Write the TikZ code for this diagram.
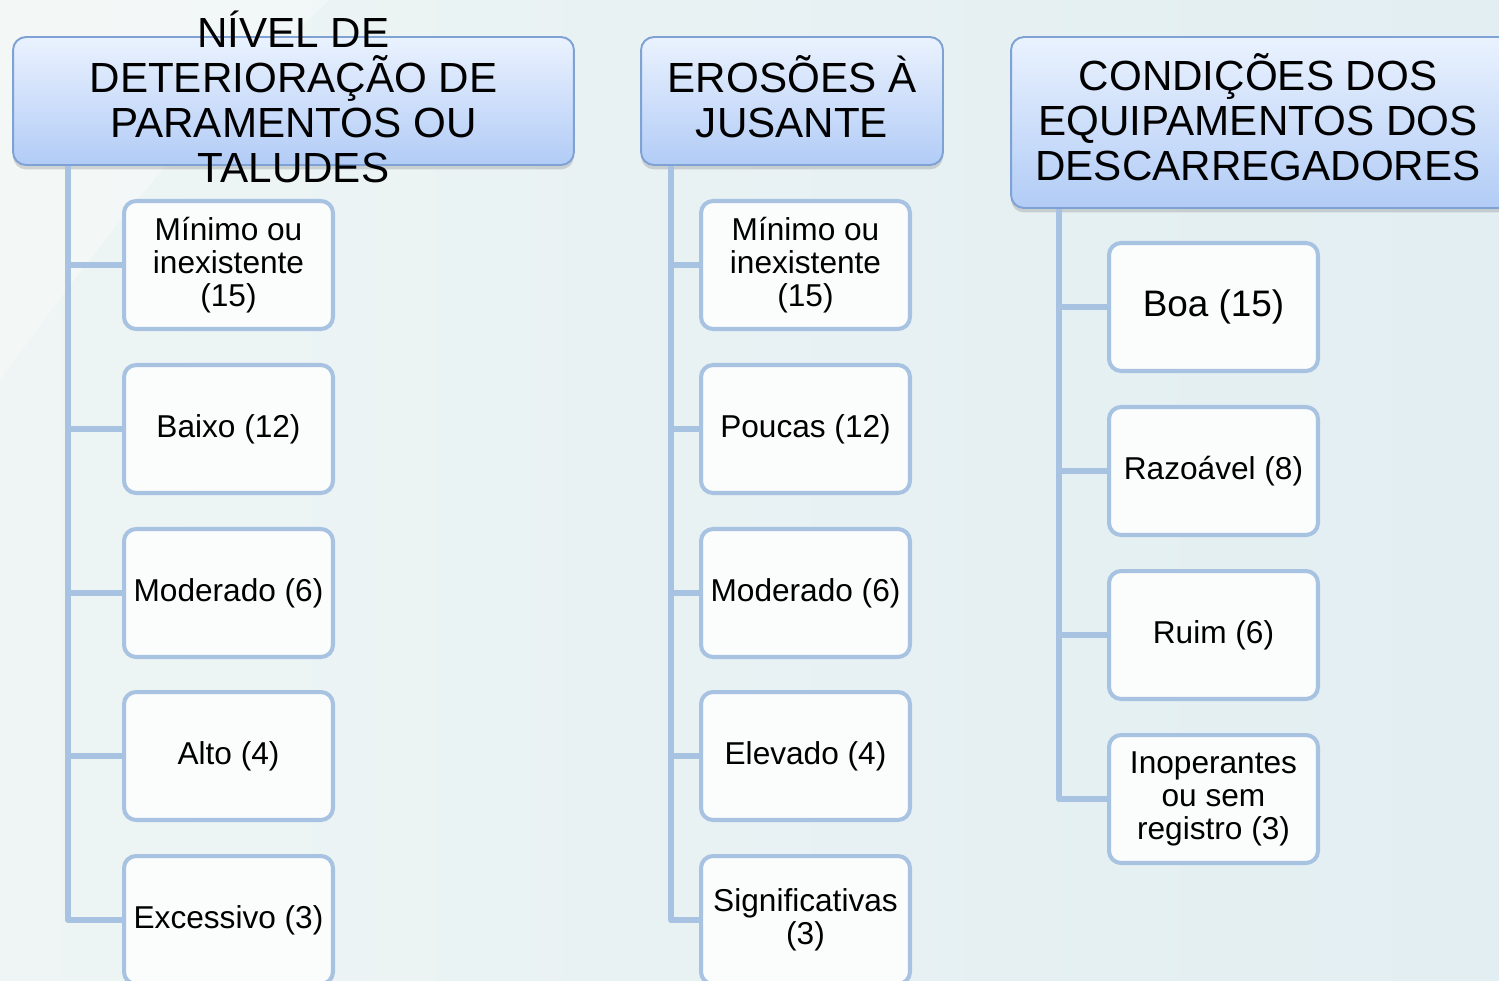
\documentclass[tikz,border=0pt]{standalone}
\usepackage{fontspec}
\setmainfont{Liberation Sans}
\usetikzlibrary{shadows}
\definecolor{linkblue}{HTML}{A8C2E1}
\definecolor{headline}{HTML}{7FA2D4}
\definecolor{headtop}{HTML}{EAF2FE}
\definecolor{headbot}{HTML}{B2CCF6}
\definecolor{boxfill}{HTML}{FBFCFC}
\definecolor{bgleft}{HTML}{EEF5F4}
\definecolor{bgright}{HTML}{E2EEF2}
\begin{document}
\begin{tikzpicture}[x=0.02cm, y=-0.02cm, line join=round, line cap=round,
	head/.style={draw=headline, line width=1.1pt, rounded corners=0.26cm, top color=headtop, bottom color=headbot,
		drop shadow={shadow xshift=0pt, shadow yshift=-2.5pt, opacity=0.3}, inner sep=0pt},
	headtext/.style={align=center, inner sep=0pt, yshift=0.08cm, font=\fontsize{24}{25.6}\selectfont},
	item/.style={draw=linkblue, line width=2.3pt, rounded corners=0.24cm, fill=boxfill, minimum width=4.18cm,
		minimum height=2.56cm, align=center, inner sep=0pt, font=\fontsize{18}{18.7}\selectfont},
	link/.style={draw=linkblue, line width=3.4pt, line cap=butt}]
	\useasboundingbox (0,0) rectangle (1499,981);
	\clip (0,0) rectangle (1499,981);
	% Fundo
	\shade [left color=bgleft, right color=bgright] (0,0) rectangle (1499,981);
	\fill [white, opacity=0.35] (0,380) .. controls (60,300) and (160,150) .. (330,0) -- (0,0) -- cycle;
	% Cabeçalhos
	\node [head, minimum width=11.22cm, minimum height=2.56cm] (h1) at (293.5,101) {};
	\node [headtext] (h1t) at (h1.center) {NÍVEL DE\\DETERIORAÇÃO DE\\PARAMENTOS OU\\TALUDES};
	\node [head, minimum width=6.04cm, minimum height=2.56cm] (h2) at (792,101) {};
	\node [headtext] (h2t) at (h2.center) {EROSÕES À\\JUSANTE};
	\node [head, minimum width=10cm, minimum height=3.42cm] (h3) at (1261,122.5) {};
	\node [headtext] (h3t) at (1258,121) {CONDIÇÕES DOS\\EQUIPAMENTOS DOS\\DESCARREGADORES};
	% Coluna 1
	\node [item] (c1a) at (228.5,265) {Mínimo ou\\inexistente\\(15)};
	\node [item] (c1b) at (228.5,429) {Baixo (12)};
	\node [item] (c1c) at (228.5,593) {Moderado (6)};
	\node [item] (c1d) at (228.5,756) {Alto (4)};
	\node [item] (c1e) at (228.5,920) {Excessivo (3)};
	% Coluna 2
	\node [item] (c2a) at (805.5,265) {Mínimo ou\\inexistente\\(15)};
	\node [item] (c2b) at (805.5,429) {Poucas (12)};
	\node [item] (c2c) at (805.5,593) {Moderado (6)};
	\node [item] (c2d) at (805.5,756) {Elevado (4)};
	\node [item] (c2e) at (805.5,920) {Significativas\\(3)};
	% Coluna 3
	\node [item] (c3a) at (1213.5,307) {\fontsize{21}{22}\selectfont Boa (15)};
	\node [item] (c3b) at (1213.5,471) {Razoável (8)};
	\node [item] (c3c) at (1213.5,635) {Ruim (6)};
	\node [item] (c3d) at (1213.5,799) {Inoperantes\\ou sem\\registro (3)};
	% Ligações
	\coordinate (t1) at (68,166);
	\coordinate (t2) at (671,166);
	\coordinate (t3) at (1059,209);
	\draw [link] (t1) |- (c1e.west) (t1 |- c1a.west) -- (c1a.west) (t1 |- c1b.west) -- (c1b.west)
	(t1 |- c1c.west) -- (c1c.west) (t1 |- c1d.west) -- (c1d.west);
	\draw [link] (t2) |- (c2e.west) (t2 |- c2a.west) -- (c2a.west) (t2 |- c2b.west) -- (c2b.west)
	(t2 |- c2c.west) -- (c2c.west) (t2 |- c2d.west) -- (c2d.west);
	\draw [link] (t3) |- (c3d.west) (t3 |- c3a.west) -- (c3a.west) (t3 |- c3b.west) -- (c3b.west)
	(t3 |- c3c.west) -- (c3c.west);
\end{tikzpicture}
\end{document}
